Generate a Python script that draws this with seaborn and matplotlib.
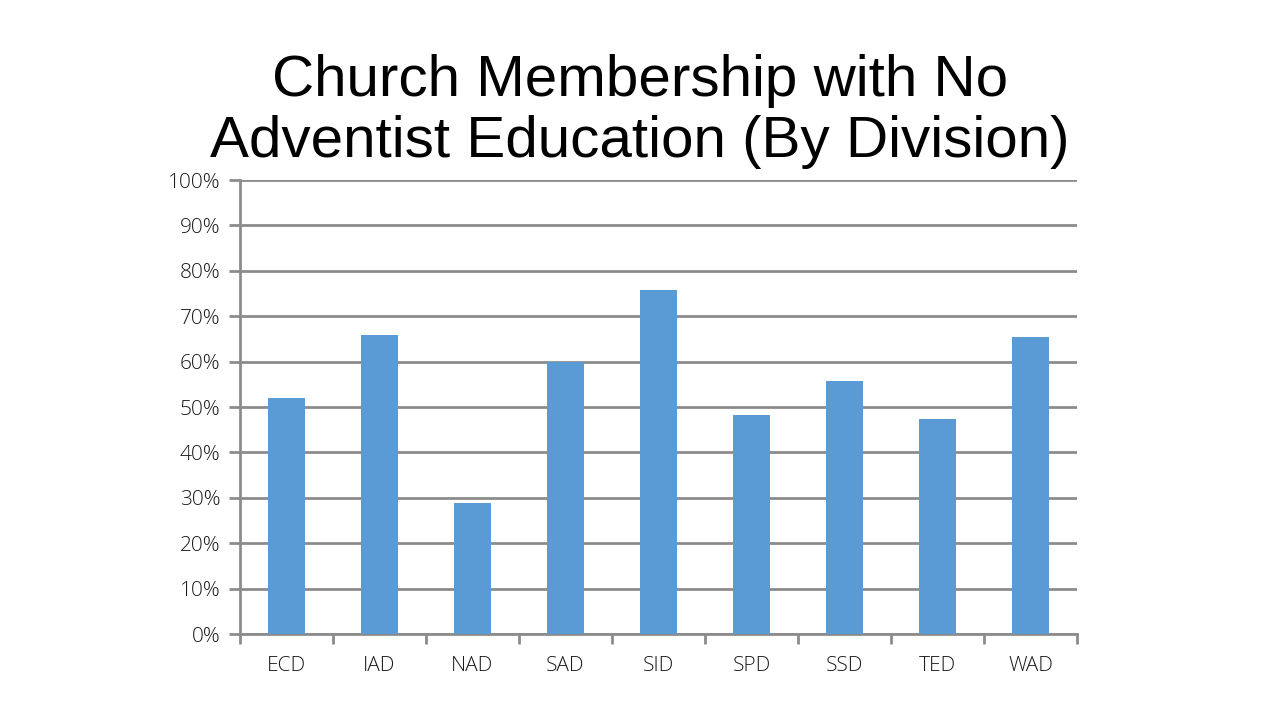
import pandas as pd
import matplotlib
matplotlib.use('Agg')
import matplotlib.pyplot as plt
import seaborn as sns
from matplotlib.ticker import PercentFormatter

# данные по дивизионам
divisions = ['ECD', 'IAD', 'NAD', 'SAD', 'SID', 'SPD', 'SSD', 'TED', 'WAD']
no_education = [52.0, 65.9, 28.9, 59.9, 75.8, 48.2, 55.7, 47.4, 65.4]

df = pd.DataFrame({'division': divisions, 'share': no_education})

sns.set_style('white', {'xtick.bottom': True, 'ytick.left': True})
plt.rcParams['font.family'] = ['Liberation Sans', 'DejaVu Sans']

fig = plt.figure(figsize=(12.8, 7.2), dpi=100)
ax = fig.add_axes([0.1875, 0.1194, 0.6539, 0.6306])

sns.barplot(data=df, x='division', y='share', color='#5b9bd5', width=0.39,
            saturation=1, linewidth=0, edgecolor='none', ax=ax, zorder=3)

# сетка и оси
grid_c = '#8c8c8c'
ax.set_ylim(0, 100)
ax.set_yticks(range(0, 101, 10))
ax.yaxis.set_major_formatter(PercentFormatter(decimals=0))
ax.grid(axis='y', color=grid_c, linewidth=2, zorder=0)
ax.set_xlim(-0.5, len(divisions) - 0.5)
ax.set_xticks([i - 0.5 for i in range(len(divisions) + 1)], minor=True)
ax.tick_params(axis='x', which='major', length=0, pad=16)
ax.tick_params(axis='x', which='minor', length=7, width=2, color=grid_c, direction='out')
ax.tick_params(axis='y', length=8, width=2, color=grid_c, direction='out', pad=6)
for lbl in ax.get_xticklabels() + ax.get_yticklabels():
    lbl.set_fontfamily(['Open Sans', 'DejaVu Sans'])
    lbl.set_fontweight('light')
    lbl.set_fontsize(15)
    lbl.set_color('#1a1a1a')
for s in ['top', 'right']:
    ax.spines[s].set_visible(False)
ax.spines['left'].set_color(grid_c)
ax.spines['left'].set_linewidth(2)
ax.spines['bottom'].set_color(grid_c)
ax.spines['bottom'].set_linewidth(2)
ax.set_xlabel('')
ax.set_ylabel('')

fig.text(0.5, 0.925, 'Church Membership with No\nAdventist Education (By Division)',
         ha='center', va='top', fontsize=42, linespacing=1.17, color='black')

fig.savefig('out.png', dpi=100)
